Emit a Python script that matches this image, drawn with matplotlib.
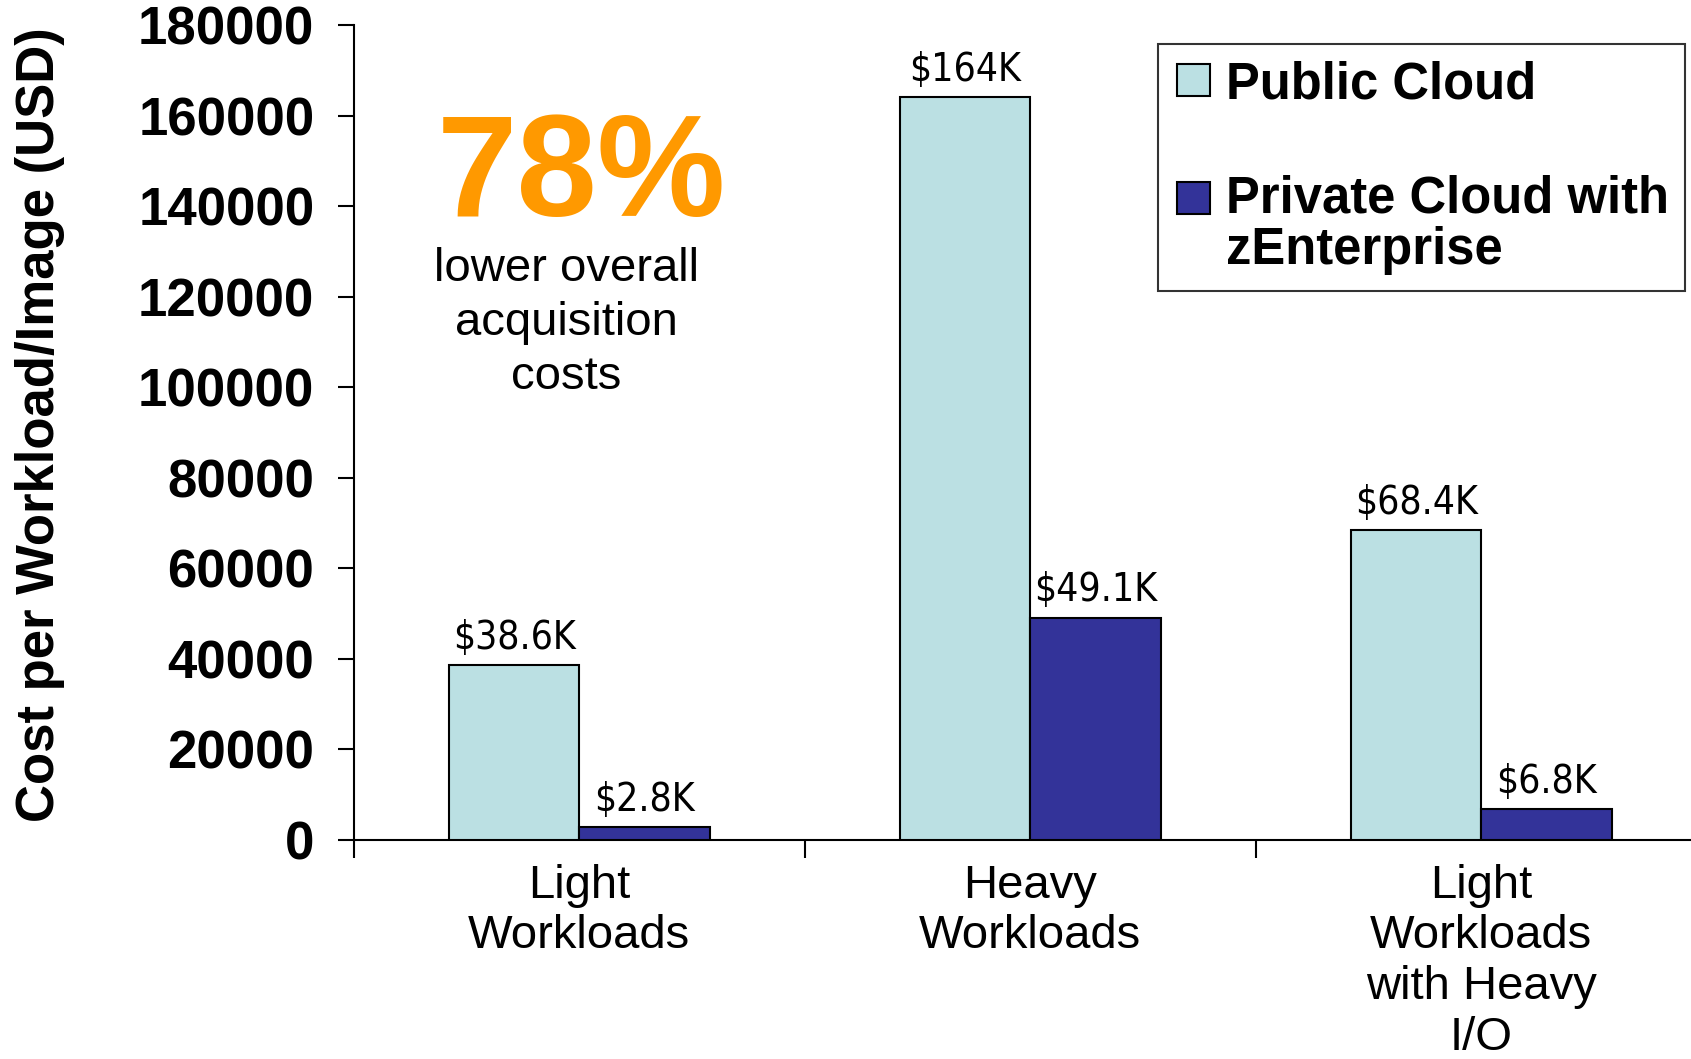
import matplotlib.pyplot as plt
import matplotlib.patches as mpatches
from matplotlib.legend_handler import HandlerPatch
import numpy as np

categories = ["Light\nWorkloads", "Heavy\nWorkloads", "Light\nWorkloads\nwith Heavy\nI/O"]
public_cost = [38600, 164000, 68400]
private_cost = [2800, 49100, 6800]
public_labels = ["$38.6K", "$164K", "$68.4K"]
private_labels = ["$2.8K", "$49.1K", "$6.8K"]
series_names = ["Public Cloud", "Private Cloud with\nzEnterprise"]
y_ticks = [0, 20000, 40000, 60000, 80000, 100000, 120000, 140000, 160000, 180000]

public_color = '#BBE0E3'
private_color = '#333399'

plt.rcParams['font.family'] = ['Liberation Sans', 'DejaVu Sans']

fig = plt.figure(figsize=(16.91, 10.59), dpi=100)
ax = fig.add_axes([0.2093, 0.2068, 0.800, 0.7696])

x = np.arange(len(categories))
w = 0.289
bars_pub = ax.bar(x - w / 2, public_cost, w, color=public_color, edgecolor='black', linewidth=1.5, zorder=3)
bars_priv = ax.bar(x + w / 2, private_cost, w, color=private_color, edgecolor='black', linewidth=1.5, zorder=3)

# value labels in a condensed face above each bar
for bars, labels in ((bars_pub, public_labels), (bars_priv, private_labels)):
    for b, lab in zip(bars, labels):
        ax.annotate(lab, (b.get_x() + b.get_width() / 2, b.get_height()),
                    xytext=(0, 12), textcoords='offset points',
                    ha='center', va='baseline', fontsize=28,
                    family='DejaVu Sans', fontstretch='condensed')

ax.set_xlim(-0.5, len(categories) - 0.5)
ax.set_ylim(0, 180000)
ax.set_yticks(y_ticks)
ax.set_yticklabels([str(v) for v in y_ticks], fontsize=38, fontweight='bold')
ax.tick_params(axis='y', direction='out', length=11.5, width=1.5, pad=17)

# category separators as major ticks, names on minor ticks
ax.set_xticks(np.arange(len(categories) + 1) - 0.5)
ax.set_xticklabels([])
ax.tick_params(axis='x', which='major', direction='out', length=13, width=1.5)
ax.set_xticks(x, minor=True)
ax.set_xticklabels(categories, minor=True, fontsize=34, linespacing=1.2)
ax.tick_params(axis='x', which='minor', length=0, pad=17)

for side in ('top', 'right'):
    ax.spines[side].set_visible(False)
for side in ('left', 'bottom'):
    ax.spines[side].set_linewidth(1.5)

ax.set_ylabel('Cost per Workload/Image (USD)', fontsize=38, fontweight='bold')
ax.yaxis.set_label_coords(-0.2136, 0.51)

ax.text(0.1685, 0.766, '78%', transform=ax.transAxes, ha='center', va='baseline',
        fontsize=104, fontweight='bold', color='#FF9900')
ax.text(0.157, 0.728, 'lower overall\nacquisition\ncosts', transform=ax.transAxes,
        ha='center', va='top', fontsize=34, linespacing=1.3)


def top_line_patch(legend, orig_handle, xdescent, ydescent, width, height, fontsize):
    # square swatch at the right of the handle box, level with the first label line
    lines = orig_handle.get_label().count('\n')
    shift = 0.54 * fontsize * lines
    return mpatches.Rectangle((-xdescent + width - height, -ydescent + shift), height, height)


handles = [mpatches.Patch(facecolor=public_color, edgecolor='black', linewidth=1.5, label=series_names[0]),
           mpatches.Patch(facecolor=private_color, edgecolor='black', linewidth=1.5, label=series_names[1])]
leg = fig.legend(handles=handles, loc='upper right', bbox_to_anchor=(0.9965, 0.9585),
                 prop={'size': 36.5, 'weight': 'bold'}, frameon=True, fancybox=False,
                 handlelength=0.7, handleheight=0.6, handletextpad=0.32,
                 borderpad=0.32, labelspacing=1.28, borderaxespad=0,
                 handler_map={mpatches.Patch: HandlerPatch(patch_func=top_line_patch)})
for t in leg.get_texts():
    t.set_linespacing(1.08)
leg.get_frame().set_edgecolor('black')
leg.get_frame().set_linewidth(1.5)

fig.savefig('out.png', dpi=100)
